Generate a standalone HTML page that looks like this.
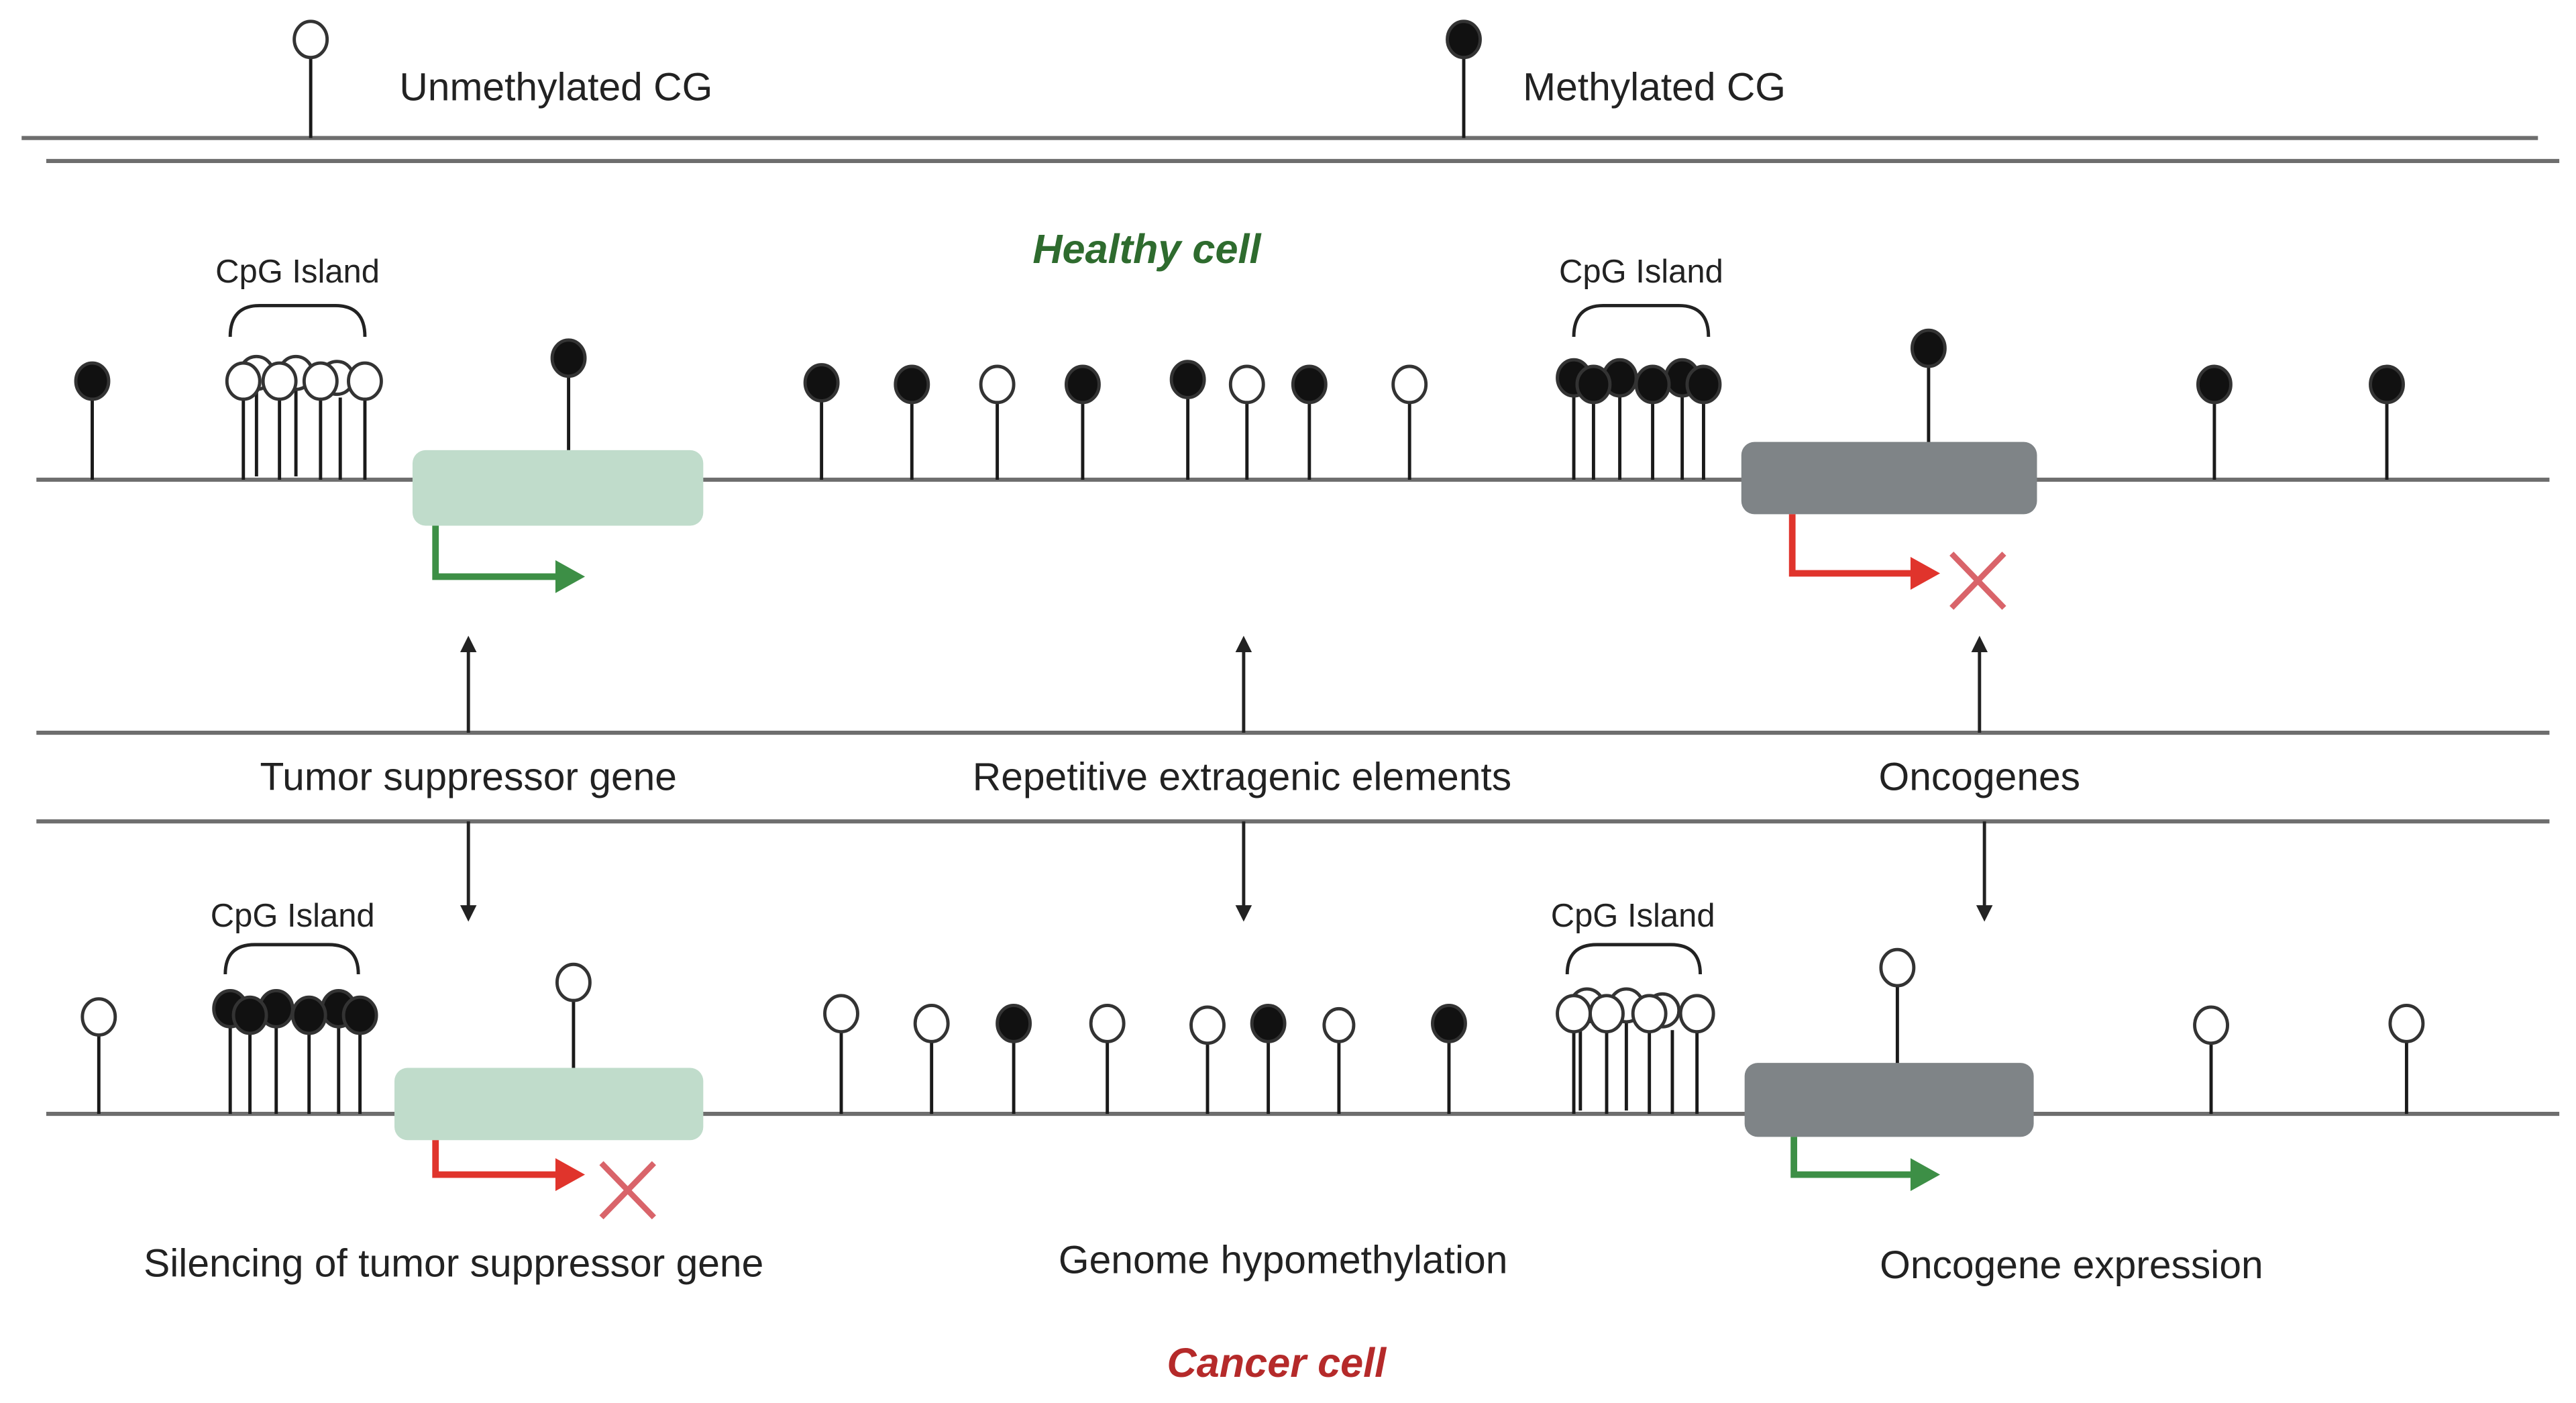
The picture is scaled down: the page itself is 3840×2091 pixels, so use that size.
<!DOCTYPE html>
<html><head><meta charset="utf-8"><style>html,body{margin:0;padding:0;background:#fff}svg{display:block}</style></head>
<body>
<svg width="3840" height="2091" viewBox="0 0 1568 854" xmlns="http://www.w3.org/2000/svg" font-family="Liberation Sans, sans-serif">
<defs>
<marker id="ah" markerWidth="10" markerHeight="10" refX="5" refY="5" orient="auto" markerUnits="userSpaceOnUse"><path d="M0,0 L10,5 L0,10 z" fill="#222"/></marker>
</defs>
<rect width="1568" height="854" fill="#fff"/>
<g stroke="#6e6e6e" stroke-width="2.5">
<line x1="13" y1="84" x2="1545" y2="84"/>
<line x1="28" y1="98" x2="1558" y2="98"/>
<line x1="22" y1="292" x2="1552" y2="292"/>
<line x1="22" y1="446" x2="1552" y2="446"/>
<line x1="22" y1="500" x2="1552" y2="500"/>
<line x1="28" y1="678" x2="1558" y2="678"/>
</g>
<g stroke="#1a1a1a" stroke-width="2">
<line x1="189" y1="34" x2="189" y2="84"/><line x1="891" y1="34" x2="891" y2="84"/>
<line x1="56" y1="242" x2="56" y2="292"/>
<line x1="148" y1="242" x2="148" y2="292"/><line x1="156" y1="235" x2="156" y2="290"/><line x1="170" y1="242" x2="170" y2="292"/><line x1="180" y1="235" x2="180" y2="290"/><line x1="195" y1="242" x2="195" y2="292"/><line x1="207" y1="242" x2="207" y2="292"/><line x1="222" y1="242" x2="222" y2="292"/>
<line x1="346" y1="228" x2="346" y2="274"/>
<line x1="500" y1="243" x2="500" y2="292"/><line x1="555" y1="244" x2="555" y2="292"/><line x1="607" y1="244" x2="607" y2="292"/><line x1="659" y1="244" x2="659" y2="292"/><line x1="723" y1="241" x2="723" y2="292"/><line x1="759" y1="244" x2="759" y2="292"/><line x1="797" y1="244" x2="797" y2="292"/><line x1="858" y1="244" x2="858" y2="292"/>
<line x1="958" y1="240" x2="958" y2="292"/><line x1="970" y1="244" x2="970" y2="292"/><line x1="986" y1="240" x2="986" y2="292"/><line x1="1006" y1="244" x2="1006" y2="292"/><line x1="1024" y1="240" x2="1024" y2="292"/><line x1="1037" y1="244" x2="1037" y2="292"/>
<line x1="1174" y1="222" x2="1174" y2="270"/>
<line x1="1348" y1="244" x2="1348" y2="292"/><line x1="1453" y1="244" x2="1453" y2="292"/>
<line x1="60" y1="629" x2="60" y2="678"/>
<line x1="140" y1="624" x2="140" y2="678"/><line x1="152" y1="628" x2="152" y2="678"/><line x1="168" y1="624" x2="168" y2="678"/><line x1="188" y1="628" x2="188" y2="678"/><line x1="206" y1="624" x2="206" y2="678"/><line x1="219" y1="628" x2="219" y2="678"/>
<line x1="349" y1="608" x2="349" y2="650"/>
<line x1="512" y1="627" x2="512" y2="678"/><line x1="567" y1="633" x2="567" y2="678"/><line x1="617" y1="633" x2="617" y2="678"/><line x1="674" y1="633" x2="674" y2="678"/><line x1="735" y1="634" x2="735" y2="678"/><line x1="772" y1="633" x2="772" y2="678"/><line x1="815" y1="634" x2="815" y2="678"/><line x1="882" y1="633" x2="882" y2="678"/>
<line x1="958" y1="627" x2="958" y2="678"/><line x1="962" y1="620" x2="962" y2="676"/><line x1="978" y1="627" x2="978" y2="678"/><line x1="990" y1="620" x2="990" y2="676"/><line x1="1004" y1="627" x2="1004" y2="678"/><line x1="1018" y1="627" x2="1018" y2="678"/><line x1="1033" y1="627" x2="1033" y2="678"/>
<line x1="1155" y1="599" x2="1155" y2="648"/>
<line x1="1346" y1="634" x2="1346" y2="678"/><line x1="1465" y1="633" x2="1465" y2="678"/>
</g>
<g stroke="#333" stroke-width="2">
<ellipse cx="189" cy="24" rx="10" ry="11" fill="#fff"/>
<ellipse cx="891" cy="24" rx="10" ry="11" fill="#111"/>
<ellipse cx="56" cy="232" rx="10" ry="11" fill="#111"/>
<g fill="#fff"><ellipse cx="156" cy="227" rx="10" ry="10"/><ellipse cx="180" cy="227" rx="10" ry="10"/><ellipse cx="205" cy="230" rx="10" ry="10"/><ellipse cx="148" cy="232" rx="10" ry="11"/><ellipse cx="170" cy="232" rx="10" ry="11"/><ellipse cx="195" cy="232" rx="10" ry="11"/><ellipse cx="222" cy="232" rx="10" ry="11"/></g>
<ellipse cx="346" cy="218" rx="10" ry="11" fill="#111"/>
<ellipse cx="500" cy="233" rx="10" ry="11" fill="#111"/><ellipse cx="555" cy="234" rx="10" ry="11" fill="#111"/><ellipse cx="607" cy="234" rx="10" ry="11" fill="#fff"/><ellipse cx="659" cy="234" rx="10" ry="11" fill="#111"/><ellipse cx="723" cy="231" rx="10" ry="11" fill="#111"/><ellipse cx="759" cy="234" rx="10" ry="11" fill="#fff"/><ellipse cx="797" cy="234" rx="10" ry="11" fill="#111"/><ellipse cx="858" cy="234" rx="10" ry="11" fill="#fff"/>
<g fill="#111"><ellipse cx="958" cy="230" rx="10" ry="11"/><ellipse cx="986" cy="230" rx="10" ry="11"/><ellipse cx="1024" cy="230" rx="10" ry="11"/><ellipse cx="970" cy="234" rx="10" ry="11"/><ellipse cx="1006" cy="234" rx="10" ry="11"/><ellipse cx="1037" cy="234" rx="10" ry="11"/></g>
<ellipse cx="1174" cy="212" rx="10" ry="11" fill="#111"/>
<ellipse cx="1348" cy="234" rx="10" ry="11" fill="#111"/><ellipse cx="1453" cy="234" rx="10" ry="11" fill="#111"/>
<ellipse cx="60" cy="619" rx="10" ry="11" fill="#fff"/>
<g fill="#111"><ellipse cx="140" cy="614" rx="10" ry="11"/><ellipse cx="168" cy="614" rx="10" ry="11"/><ellipse cx="206" cy="614" rx="10" ry="11"/><ellipse cx="152" cy="618" rx="10" ry="11"/><ellipse cx="188" cy="618" rx="10" ry="11"/><ellipse cx="219" cy="618" rx="10" ry="11"/></g>
<ellipse cx="349" cy="598" rx="10" ry="11" fill="#fff"/>
<ellipse cx="512" cy="617" rx="10" ry="11" fill="#fff"/><ellipse cx="567" cy="623" rx="10" ry="11" fill="#fff"/><ellipse cx="617" cy="623" rx="10" ry="11" fill="#111"/><ellipse cx="674" cy="623" rx="10" ry="11" fill="#fff"/><ellipse cx="735" cy="624" rx="10" ry="11" fill="#fff"/><ellipse cx="772" cy="623" rx="10" ry="11" fill="#111"/><ellipse cx="815" cy="624" rx="9" ry="10" fill="#fff"/><ellipse cx="882" cy="623" rx="10" ry="11" fill="#111"/>
<g fill="#fff"><ellipse cx="966" cy="612" rx="10" ry="10"/><ellipse cx="990" cy="612" rx="10" ry="10"/><ellipse cx="1012" cy="615" rx="10" ry="10"/><ellipse cx="958" cy="617" rx="10" ry="11"/><ellipse cx="978" cy="617" rx="10" ry="11"/><ellipse cx="1004" cy="617" rx="10" ry="11"/><ellipse cx="1033" cy="617" rx="10" ry="11"/></g>
<ellipse cx="1155" cy="589" rx="10" ry="11" fill="#fff"/>
<ellipse cx="1346" cy="624" rx="10" ry="11" fill="#fff"/><ellipse cx="1465" cy="623" rx="10" ry="11" fill="#fff"/>
</g>
<g fill="none" stroke="#222" stroke-width="2">
<path d="M140,205 Q140,186 158,186 L204,186 Q222,186 222,205"/>
<path d="M958,205 Q958,186 976,186 L1022,186 Q1040,186 1040,205"/>
<path d="M137,593 Q137,575 155,575 L200,575 Q218,575 218,593"/>
<path d="M954,593 Q954,575 972,575 L1017,575 Q1035,575 1035,593"/>
</g>
<rect x="251" y="274" width="177" height="46" rx="8" fill="#c0dccb"/>
<rect x="1060" y="269" width="180" height="44" rx="8" fill="#7f8487"/>
<rect x="240" y="650" width="188" height="44" rx="8" fill="#c0dccb"/>
<rect x="1062" y="647" width="176" height="45" rx="8" fill="#7f8487"/>
<path d="M265,320 V351 H340" fill="none" stroke="#3d8f46" stroke-width="4"/><path d="M338,341 L356,351 L338,361z" fill="#3d8f46"/>
<path d="M1091,313 V349 H1165" fill="none" stroke="#e0342c" stroke-width="4"/><path d="M1163,339 L1181,349 L1163,359z" fill="#e0342c"/>
<path d="M265,694 V715 H340" fill="none" stroke="#e0342c" stroke-width="4"/><path d="M338,705 L356,715 L338,725z" fill="#e0342c"/>
<path d="M1092,692 V715 H1165" fill="none" stroke="#3d8f46" stroke-width="4"/><path d="M1163,705 L1181,715 L1163,725z" fill="#3d8f46"/>
<g stroke="#d9646a" stroke-width="3.5">
<line x1="1188" y1="337" x2="1220" y2="370"/><line x1="1220" y1="337" x2="1188" y2="370"/>
<line x1="366" y1="708" x2="398" y2="741"/><line x1="398" y1="708" x2="366" y2="741"/>
</g>
<g stroke="#222" stroke-width="2" marker-end="url(#ah)">
<line x1="285" y1="446" x2="285" y2="392"/><line x1="757" y1="446" x2="757" y2="392"/><line x1="1205" y1="446" x2="1205" y2="392"/>
<line x1="285" y1="500" x2="285" y2="556"/><line x1="757" y1="500" x2="757" y2="556"/><line x1="1208" y1="500" x2="1208" y2="556"/>
</g>
<g fill="#222" font-size="24">
<text x="243" y="61">Unmethylated CG</text>
<text x="927" y="61">Methylated CG</text>
<g text-anchor="middle">
<text x="285" y="481">Tumor suppressor gene</text>
<text x="756" y="481">Repetitive extragenic elements</text>
<text x="1205" y="481">Oncogenes</text>
<text x="276" y="777">Silencing of tumor suppressor gene</text>
<text x="781" y="775">Genome hypomethylation</text>
<text x="1261" y="778">Oncogene expression</text>
<g font-size="20"><text x="181" y="172">CpG Island</text><text x="999" y="172">CpG Island</text><text x="178" y="564">CpG Island</text><text x="994" y="564">CpG Island</text></g>
</g></g>
<text x="698" y="160" text-anchor="middle" font-size="25" font-style="italic" font-weight="bold" fill="#2e6b2e">Healthy cell</text>
<text x="777" y="838" text-anchor="middle" font-size="25" font-style="italic" font-weight="bold" fill="#b52a2a">Cancer cell</text>
</svg>
</body></html>
